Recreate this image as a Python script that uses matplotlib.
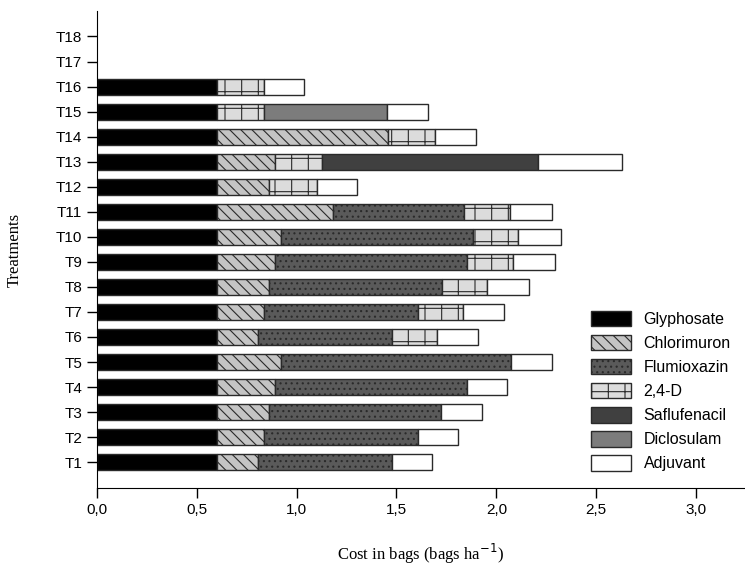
import matplotlib.pyplot as plt
import numpy as np

treatments = ['T%d' % i for i in range(1, 19)]
# cost per component (bags/ha), T1..T18
glyphosate  = [0.6]*16 + [0, 0]
chlorimuron = [0.205, 0.235, 0.26, 0.29, 0.32, 0.205, 0.235, 0.26, 0.29, 0.32,
               0.58, 0.26, 0.29, 0.86, 0, 0, 0, 0]
flumioxazin = [0.675, 0.775, 0.865, 0.963, 1.153, 0.675, 0.775, 0.87, 0.963, 0.963,
               0.66, 0, 0, 0, 0, 0, 0, 0]
d24         = [0, 0, 0, 0, 0, 0.225, 0.225, 0.225, 0.23, 0.227,
               0.23, 0.24, 0.235, 0.235, 0.235, 0.235, 0, 0]
saflufenacil = [0]*12 + [1.085] + [0]*5
diclosulam  = [0]*14 + [0.62] + [0]*3
adjuvant    = [0.2, 0.2, 0.205, 0.2, 0.207, 0.205, 0.205, 0.21, 0.21, 0.213,
               0.21, 0.2, 0.42, 0.205, 0.205, 0.2, 0, 0]
xticks = [0.0, 0.5, 1.0, 1.5, 2.0, 2.5, 3.0]

series = [('Glyphosate', glyphosate, 'black', None),
          ('Chlorimuron', chlorimuron, '#c4c4c4', '\\\\\\'),
          ('Flumioxazin', flumioxazin, '#5a5a5a', '...'),
          ('2,4-D', d24, '#dcdcdc', '+'),
          ('Saflufenacil', saflufenacil, '#404040', None),
          ('Diclosulam', diclosulam, '#7c7c7c', None),
          ('Adjuvant', adjuvant, 'white', None)]

plt.rcParams['hatch.linewidth'] = 0.8
fig = plt.figure(figsize=(7.45, 5.73), dpi=100)
ax = fig.add_axes([0.130, 0.148, 0.870, 0.832])

y = np.arange(len(treatments))
left = np.zeros(len(treatments))
for name, vals, col, hat in series:
    vals = np.array(vals)
    m = vals > 0  # skip empty segments so no stray edges
    ax.barh(y[m], vals[m], left=left[m], height=0.64, color=col, hatch=hat,
            edgecolor='#2a2a2a', linewidth=1.0, label=name)
    left += vals

ax.set_xlim(0, 3.245)
ax.set_ylim(-1.04, 18.0)
ax.set_yticks(y)
ax.set_yticklabels(treatments, family='Liberation Sans', fontsize=11)
ax.set_xticks(xticks)
ax.set_xticklabels([('%.1f' % v).replace('.', ',') for v in xticks],
                   family='Liberation Sans', fontsize=11)
for s in ['top', 'right']:
    ax.spines[s].set_visible(False)
ax.tick_params(direction='out', length=7, width=1)
ax.set_xlabel('Cost in bags (bags ha$^{-1}$)', family='Liberation Serif', fontsize=12, labelpad=18)
ax.set_ylabel('Treatments', family='Liberation Serif', fontsize=12, labelpad=24)

ax.legend(loc='lower right', bbox_to_anchor=(1.0, 0.005), frameon=False,
          prop={'family': 'Liberation Sans', 'size': 11.5},
          handlelength=2.5, handleheight=1.1, labelspacing=0.5)

plt.savefig('out.png', dpi=100)
